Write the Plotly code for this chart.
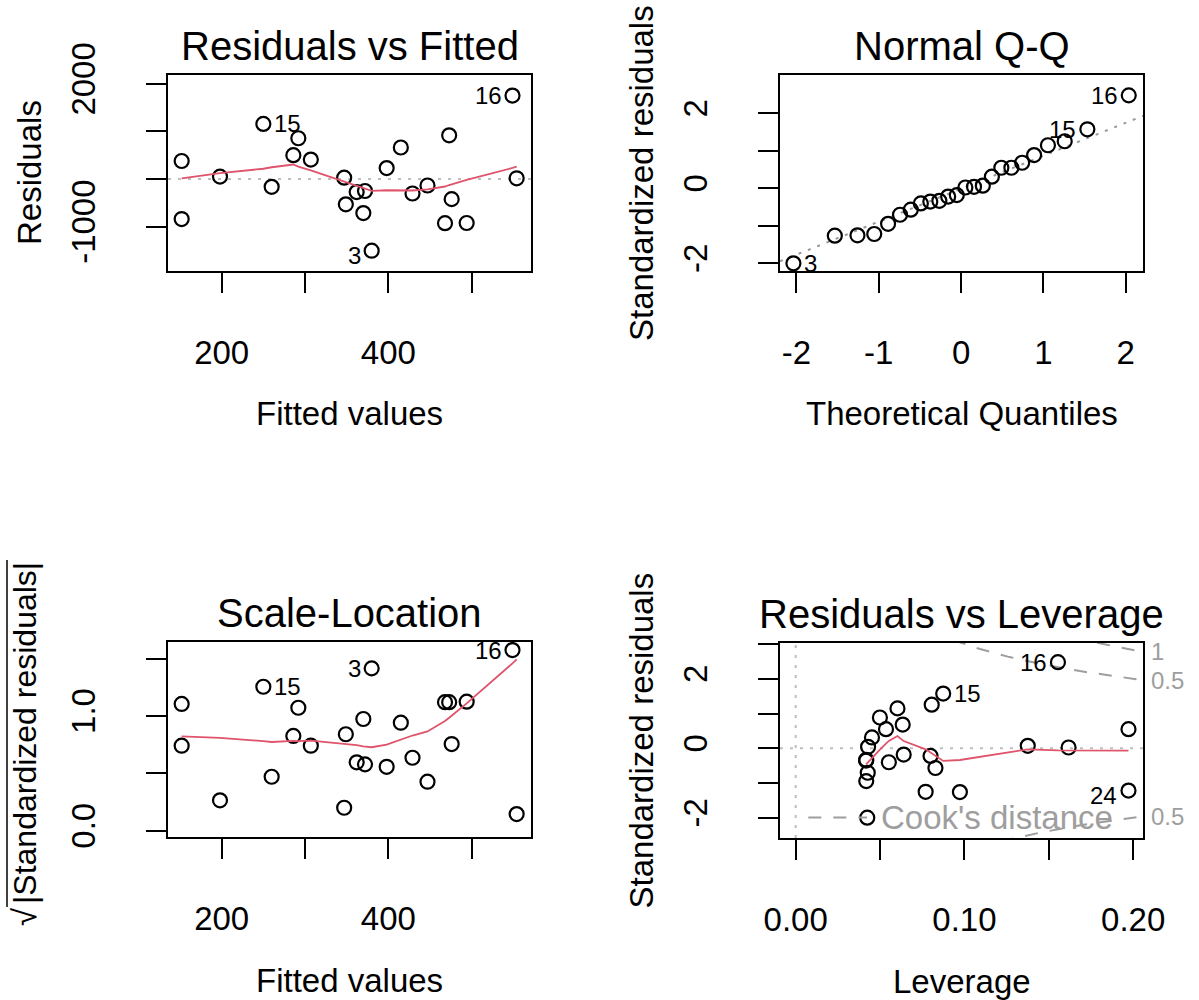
import numpy as np
import plotly.graph_objects as go

# ---- regression diagnostics for a 24-observation linear model ----
obs_id = list(range(1, 25))
fitted = [292, 468, 380, 347, 415, 198, 362, 494, 286, 429, 152, 370,
          473, 398, 250, 549, 307, 476, 349, 554, 260, 447, 372, 152]
residuals = [856, -928, -1507, 28, 662, 50, -275, -924, 500, -305, 378, -716,
             918, 230, 1157, 1753, 408, -423, -532, 15, -165, -137, -252, -841]
std_resid = [1.147, -1.254, -2.0, 0.040, 0.885, 0.070, -0.355, -1.263, 0.681, -0.404,
             0.548, -0.947, 1.254, 0.310, 1.573, 2.477, 0.548, -0.570, -0.706, 0.021,
             -0.221, -0.182, -0.334, -1.219]
leverage = [0.0603, 0.0770, 0.0424, 0.0429, 0.0499, 0.1375, 0.0417, 0.0973, 0.0634, 0.0552,
            0.1972, 0.0418, 0.0806, 0.0452, 0.0874, 0.1554, 0.0535, 0.0828, 0.0427, 0.1617,
            0.0799, 0.0640, 0.0418, 0.1972]
# theoretical normal quantiles for n = 24 (ppoints with a = 1/2)
normal_quantiles = [-2.037, -1.534, -1.259, -1.055, -0.887, -0.742, -0.611, -0.489,
                    -0.374, -0.264, -0.157, -0.052, 0.052, 0.157, 0.264, 0.374,
                    0.489, 0.611, 0.742, 0.887, 1.055, 1.259, 1.534, 2.037]
normal_quartiles = [-0.6745, 0.6745]
n_coef = 2
cook_levels = [0.5, 1.0]
n_id = 3

titles = ["Residuals vs Fitted", "Normal Q-Q", "Scale-Location", "Residuals vs Leverage"]
x_titles = ["Fitted values", "Theoretical Quantiles", "Fitted values", "Leverage"]
y_titles = ["Residuals", "Standardized residuals", "|Standardized residuals|", "Standardized residuals"]

FONT = "Liberation Sans, Arial, Helvetica, sans-serif"
W, H = 1199, 1000
RED = "#DF536B"
GRAY = "#BEBEBE"
GRAY50 = "#999999"
COOK = "#9E9E9E"


def lowess(x, y, f=2 / 3, iters=3):
    """Port of R's clowess (stats::lowess)."""
    x = np.asarray(x, float)
    y = np.asarray(y, float)
    o = np.argsort(x, kind="stable")
    x, y = x[o], y[o]
    n = len(x)
    rng = x[-1] - x[0]
    delta = 0.01 * rng
    ns = max(2, min(n, int(f * n + 1e-7)))
    ys = np.zeros(n)
    rw = np.ones(n)

    def lowest(xs, nleft, nright, userw):
        h = max(xs - x[nleft], x[nright] - xs)
        h9, h1 = 0.999 * h, 0.001 * h
        w = np.zeros(n)
        a = 0.0
        j = nleft
        while j < n:
            r = abs(x[j] - xs)
            if r <= h9:
                w[j] = 1.0 if r <= h1 else (1 - (r / h) ** 3) ** 3
                if userw:
                    w[j] *= rw[j]
                a += w[j]
            elif x[j] > xs:
                break
            j += 1
        nrt = j - 1
        if a <= 0:
            return None
        sl = slice(nleft, nrt + 1)
        w[sl] /= a
        if h > 0:
            a = np.sum(w[sl] * x[sl])
            b = xs - a
            c = np.sum(w[sl] * (x[sl] - a) ** 2)
            if np.sqrt(c) > 0.001 * rng:
                b /= c
                w[sl] *= b * (x[sl] - a) + 1
        return np.sum(w[sl] * y[sl])

    for it in range(iters + 1):
        nleft, nright = 0, ns - 1
        last = -1
        i = 0
        while True:
            if nright < n - 1:
                d1 = x[i] - x[nleft]
                d2 = x[nright + 1] - x[i]
                if d1 > d2:
                    nleft += 1
                    nright += 1
                    continue
            val = lowest(x[i], nleft, nright, it > 0)
            ys[i] = y[i] if val is None else val
            if last < i - 1:
                denom = x[i] - x[last]
                for j in range(last + 1, i):
                    alpha = (x[j] - x[last]) / denom
                    ys[j] = alpha * ys[i] + (1 - alpha) * ys[last]
            last = i
            cut = x[last] + delta
            i = last + 1
            while i < n:
                if x[i] > cut:
                    break
                if x[i] == x[last]:
                    ys[i] = ys[last]
                    last = i
                i += 1
            i = max(last + 1, i - 1)
            if last >= n - 1:
                break
        res = y - ys
        if it == iters:
            break
        sc = np.mean(np.abs(res))
        cmad = 6 * np.median(np.abs(res))
        if cmad < 1e-7 * sc:
            break
        r = np.abs(res)
        rw = np.where(r <= 0.001 * cmad, 1.0,
                      np.where(r <= 0.999 * cmad, (1 - (r / cmad) ** 2) ** 2, 0.0))
    return x, ys


fit = np.array(fitted, float)
res = np.array(residuals, float)
rs = np.array(std_resid, float)
hat = np.array(leverage, float)
ids = np.array(obs_id)
sqrt_abs_rs = np.sqrt(np.abs(rs))
cooks = rs ** 2 * hat / (n_coef * (1 - hat))

# panel boxes in pixels: (left, right, top, bottom)
boxes = [(168, 531, 75, 271), (780, 1143, 75, 271),
         (168, 531, 642, 837), (780, 1143, 643, 838)]
x_ranges = [[135.6, 571.2], [-2.2, 2.21], [135.6, 571.2], [-0.0093, 0.2058]]
y_ranges = [[-1933, 2185], [-2.205, 3.02], [-0.055, 1.644], [-2.585, 3.03]]
x_ticks = [([200, 300, 400, 500], ["200", "", "400", ""]),
           ([-2, -1, 0, 1, 2], ["-2", "-1", "0", "1", "2"]),
           ([200, 300, 400, 500], ["200", "", "400", ""]),
           ([0, 0.05, 0.10, 0.15, 0.20], ["0.00", "", "0.10", "", "0.20"])]
y_ticks = [([-1000, 0, 1000, 2000], ["-1000", "", "", "2000"]),
           ([-2, -1, 0, 1, 2], ["-2", "", "0", "", "2"]),
           ([0, 0.5, 1.0, 1.5], ["0.0", "", "1.0", ""]),
           ([-2, -1, 0, 1, 2, 3], ["-2", "", "0", "", "2", ""])]

fig = go.Figure()
layout = dict(template="none", width=W, height=H, autosize=False,
              margin=dict(l=0, r=0, t=0, b=0, pad=0, autoexpand=False),
              paper_bgcolor="white", plot_bgcolor="white", showlegend=False,
              font=dict(family=FONT, color="black"))

annotations = []
shapes = []


def px_x(v):
    return v / W


def px_y(v):
    return 1 - v / H


for k in range(4):
    left, right, top, bottom = boxes[k]
    sx = "" if k == 0 else str(k + 1)
    common = dict(showline=True, mirror=True, linecolor="black", linewidth=2,
                  ticks="outside", ticklen=20, tickwidth=2, tickcolor="black",
                  showgrid=False, zeroline=False, automargin=False,
                  tickfont=dict(size=33, color="black", family=FONT))
    layout["xaxis" + sx] = dict(common, domain=[px_x(left), px_x(right)],
                                anchor="y" + sx, range=x_ranges[k],
                                tickmode="array", tickvals=x_ticks[k][0],
                                ticktext=x_ticks[k][1], ticklabelstandoff=31)
    layout["yaxis" + sx] = dict(common, domain=[px_y(bottom), px_y(top)],
                                anchor="x" + sx, range=y_ranges[k],
                                tickmode="array", tickvals=y_ticks[k][0],
                                ticktext=y_ticks[k][1], tickangle=-90,
                                ticklabelstandoff=38)
    cx = (left + right) / 2
    cy = (top + bottom) / 2
    annotations.append(dict(xref="paper", yref="paper", x=px_x(cx), y=px_y(top - 29),
                            text=titles[k], showarrow=False, xanchor="center",
                            yanchor="middle", font=dict(size=40)))
    annotations.append(dict(xref="paper", yref="paper", x=px_x(cx), y=px_y(bottom + 143),
                            text=x_titles[k], showarrow=False, xanchor="center",
                            yanchor="middle", font=dict(size=33)))
    if k != 2:
        annotations.append(dict(xref="paper", yref="paper", x=px_x(left - 139), y=px_y(cy),
                                text=y_titles[k], showarrow=False, xanchor="center",
                                yanchor="middle", textangle=-90, font=dict(size=33)))

# square-root label of the scale-location panel
annotations.append(dict(xref="paper", yref="paper", x=px_x(25), y=px_y(733),
                        text=y_titles[2], showarrow=False, xanchor="center",
                        yanchor="middle", textangle=-90, font=dict(size=32)))
annotations.append(dict(xref="paper", yref="paper", x=px_x(24), y=px_y(917),
                        text="√", showarrow=False, xanchor="center",
                        yanchor="middle", textangle=-90, font=dict(size=33)))
shapes.append(dict(type="line", xref="paper", yref="paper",
                   x0=px_x(7), x1=px_x(7), y0=px_y(560), y1=px_y(907),
                   line=dict(color="black", width=1.5)))

marker = dict(symbol="circle-open", size=14, color="black", line=dict(width=2.2, color="black"))


def add_points(x, y, k):
    sx = "" if k == 0 else str(k + 1)
    fig.add_trace(go.Scatter(x=x, y=y, mode="markers", marker=marker,
                             xaxis="x" + sx, yaxis="y" + sx, hoverinfo="skip"))


def add_line(x, y, k, color, dash="solid", width=1.8):
    sx = "" if k == 0 else str(k + 1)
    fig.add_trace(go.Scatter(x=x, y=y, mode="lines",
                             line=dict(color=color, dash=dash, width=width),
                             xaxis="x" + sx, yaxis="y" + sx, hoverinfo="skip"))


def add_ids(xv, yv, labels, k, shift_neg):
    sx = "" if k == 0 else str(k + 1)
    mid = sum(x_ranges[k]) / 2
    for xx, yy, lab in zip(xv, yv, labels):
        right_side = xx > mid
        annotations.append(dict(xref="x" + sx, yref="y" + sx, x=xx, y=yy,
                                text=str(lab), showarrow=False,
                                xanchor="right" if right_side else "left",
                                xshift=-9 if right_side else 9,
                                yshift=-5 if (shift_neg and yy < 0) else 0,
                                yanchor="middle", font=dict(size=24)))


DOT = "3px,7px"
DASH = "13px,12px"

# 1. Residuals vs Fitted
add_line(x_ranges[0], [0, 0], 0, GRAY, DOT, 2)
add_points(fit, res, 0)
sx_, sy_ = lowess(fit, res)
add_line(sx_, sy_, 0, RED)
top_r = np.argsort(-np.abs(res))[:n_id]
add_ids(fit[top_r], res[top_r], ids[top_r], 0, True)

# 2. Normal Q-Q
order = np.argsort(rs, kind="stable")
qx = np.array(normal_quantiles)
qy = rs[order]
yq = np.percentile(rs, [25, 75])
slope = (yq[1] - yq[0]) / (normal_quartiles[1] - normal_quartiles[0])
inter = yq[0] - slope * normal_quartiles[0]
xl = np.array(x_ranges[1])
add_line(xl, inter + slope * xl, 1, GRAY50, DOT, 2)
add_points(qx, qy, 1)
top_s = np.argsort(-np.abs(rs))[:n_id]
rank = np.empty(len(rs), int)
rank[order] = np.arange(len(rs))
add_ids(qx[rank[top_s]], rs[top_s], ids[top_s], 1, False)

# 3. Scale-Location
add_points(fit, sqrt_abs_rs, 2)
sx_, sy_ = lowess(fit, sqrt_abs_rs)
add_line(sx_, sy_, 2, RED)
add_ids(fit[top_s], sqrt_abs_rs[top_s], ids[top_s], 2, False)

# 4. Residuals vs Leverage
add_line(x_ranges[3], [0, 0], 3, GRAY, DOT, 2)
add_line([0, 0], y_ranges[3], 3, GRAY, DOT, 2)
hh = np.linspace(hat.min() / 100, x_ranges[3][1], 201)
for crit in cook_levels:
    cl = np.sqrt(crit * n_coef * (1 - hh) / hh)
    add_line(hh, cl, 3, COOK, DASH, 2)
    add_line(hh, -cl, 3, COOK, DASH, 2)
add_points(hat, rs, 3)
sx_, sy_ = lowess(hat, rs)
add_line(sx_, sy_, 3, RED)
top_c = np.argsort(-cooks)[:n_id]
add_ids(hat[top_c], rs[top_c], ids[top_c], 3, True)

# Cook's distance levels on the right edge of the leverage panel
h_edge = x_ranges[3][1]
for crit in cook_levels:
    lvl = np.sqrt(crit * n_coef * (1 - h_edge) / h_edge)
    for yy in (lvl, -lvl):
        if y_ranges[3][0] < yy < y_ranges[3][1]:
            annotations.append(dict(xref="x4 domain", yref="y4", x=1, y=yy,
                                    text=f"{crit:g}", showarrow=False, xanchor="left",
                                    xshift=6, yanchor="middle",
                                    font=dict(size=24, color=COOK)))

# legend for the Cook's distance contours
shapes.append(dict(type="line", xref="x4 domain", yref="y4 domain",
                   x0=0.078, x1=0.24, y0=0.105, y1=0.105,
                   line=dict(color=COOK, width=2, dash=DASH)))
annotations.append(dict(xref="x4 domain", yref="y4 domain", x=0.272, y=0.105,
                        text="Cook's distance", showarrow=False, xanchor="left",
                        yanchor="middle", font=dict(size=33, color=COOK)))

layout["annotations"] = annotations
layout["shapes"] = shapes
fig.update_layout(**layout)
fig.write_html("out.html")
